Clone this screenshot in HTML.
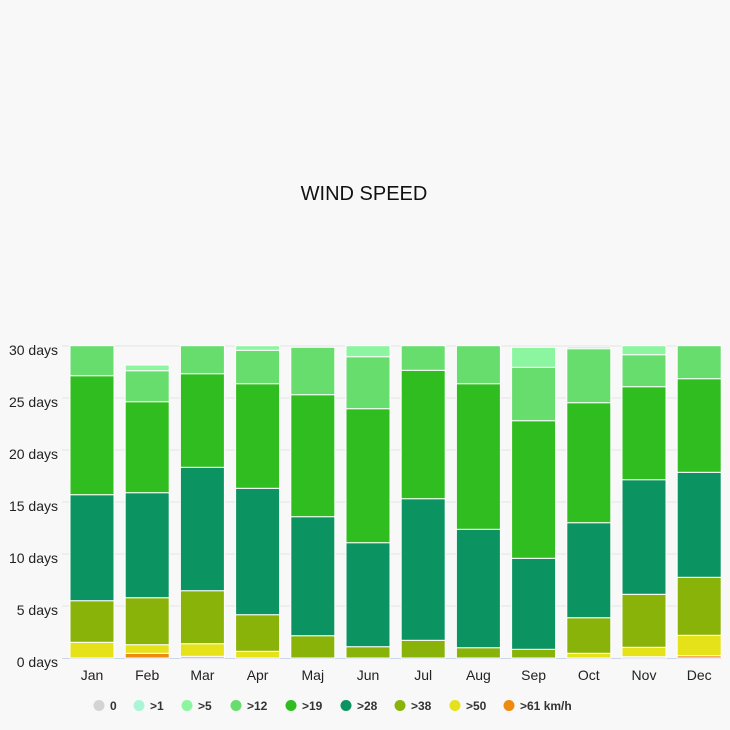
<!DOCTYPE html>
<html><head><meta charset="utf-8"><style>
html,body{margin:0;padding:0;background:#f8f8f8;}
svg{display:block;font-family:"Liberation Sans",sans-serif;}
</style></head><body>
<svg width="730" height="730" viewBox="0 0 730 730" xmlns="http://www.w3.org/2000/svg">
<rect width="730" height="730" fill="#f8f8f8"/>
<text x="364" y="200" text-anchor="middle" font-size="20" fill="#111">WIND SPEED</text>
<g stroke="#e4e4e4" stroke-width="1">
<line x1="62" x2="722" y1="346" y2="346"/><line x1="62" x2="722" y1="398" y2="398"/>
<line x1="62" x2="722" y1="450" y2="450"/><line x1="62" x2="722" y1="502" y2="502"/>
<line x1="62" x2="722" y1="554" y2="554"/><line x1="62" x2="722" y1="606" y2="606"/>
</g>
<line x1="62" x2="722" y1="658.5" y2="658.5" stroke="#ccd6eb"/>
<g font-size="14" fill="#222" text-anchor="end">
<text x="58" y="355">30 days</text><text x="58" y="407">25 days</text><text x="58" y="459">20 days</text>
<text x="58" y="511">15 days</text><text x="58" y="563">10 days</text><text x="58" y="615">5 days</text><text x="58" y="667">0 days</text>
</g>
<g id="bars" stroke="#fff" stroke-width="1"></g>
<g font-size="14" fill="#222" text-anchor="middle" id="xl"></g>
<g font-size="12" font-weight="bold" fill="#333" id="leg"></g>
<script>
var C={a:"#ee8a10",b:"#e5e21a",c:"#8ab30a",d:"#0b9461",e:"#2fbd1f",f:"#66dd6c",g:"#8cf5a0"};
var D=[
[["b",642.3],["c",600.7],["d",494.7],["e",375.7],["f",345.7]],
[["a",653.3],["b",644.7],["c",597.7],["d",492.7],["e",401.7],["f",370.7],["g",365]],
[["a",656.3],["b",643.7],["c",590.7],["d",467.3],["e",373.7],["f",345.7]],
[["b",651.3],["c",614.7],["d",488.3],["e",383.7],["f",350.3],["g",345.7]],
[["c",635.7],["d",516.7],["e",394.7],["f",347.3]],
[["c",646.7],["d",542.7],["e",408.7],["f",356.7],["g",345.7]],
[["c",640.3],["d",498.7],["e",370.3],["f",345.7]],
[["c",647.7],["d",529.3],["e",383.7],["f",345.7]],
[["c",649.3],["d",558.3],["e",420.7],["f",367.3],["g",347.3]],
[["b",653.3],["c",617.7],["d",522.7],["e",402.7],["f",348.7],["g",347]],
[["a",656.7],["b",647.3],["c",594.3],["d",479.7],["e",386.7],["f",354.7],["g",345.7]],
[["a",655.7],["b",635.3],["c",577.3],["d",472.3],["e",378.7],["f",345.7]]];
var M=["Jan","Feb","Mar","Apr","Maj","Jun","Jul","Aug","Sep","Oct","Nov","Dec"];
var NS="http://www.w3.org/2000/svg",g=document.getElementById("bars"),xl=document.getElementById("xl");
D.forEach(function(s,i){var x=70+i*55.2,b=658;s.forEach(function(p){var r=document.createElementNS(NS,"rect");
r.setAttribute("x",x);r.setAttribute("width",44);r.setAttribute("y",p[1]);r.setAttribute("height",Math.max(b-p[1],0.5));
r.setAttribute("fill",C[p[0]]);g.appendChild(r);b=p[1];});
var t=document.createElementNS(NS,"text");t.setAttribute("x",x+22);t.setAttribute("y",680);t.textContent=M[i];xl.appendChild(t);});
var L=[["#d4d4d4","0",99],["#aaf5d5",">1",139],["#8cf5a0",">5",187],["#66dd6c",">12",236],["#2fbd1f",">19",291],["#0b9461",">28",346],["#8ab30a",">38",400],["#e5e21a",">50",455],["#ee8a10",">61 km/h",509]];
var lg=document.getElementById("leg");
L.forEach(function(l){var c=document.createElementNS(NS,"circle");c.setAttribute("cx",l[2]);c.setAttribute("cy",705.5);c.setAttribute("r",5.5);c.setAttribute("fill",l[0]);lg.appendChild(c);
var t=document.createElementNS(NS,"text");t.setAttribute("x",l[2]+11);t.setAttribute("y",710);t.textContent=l[1];lg.appendChild(t);});
</script>
</svg>
</body></html>
